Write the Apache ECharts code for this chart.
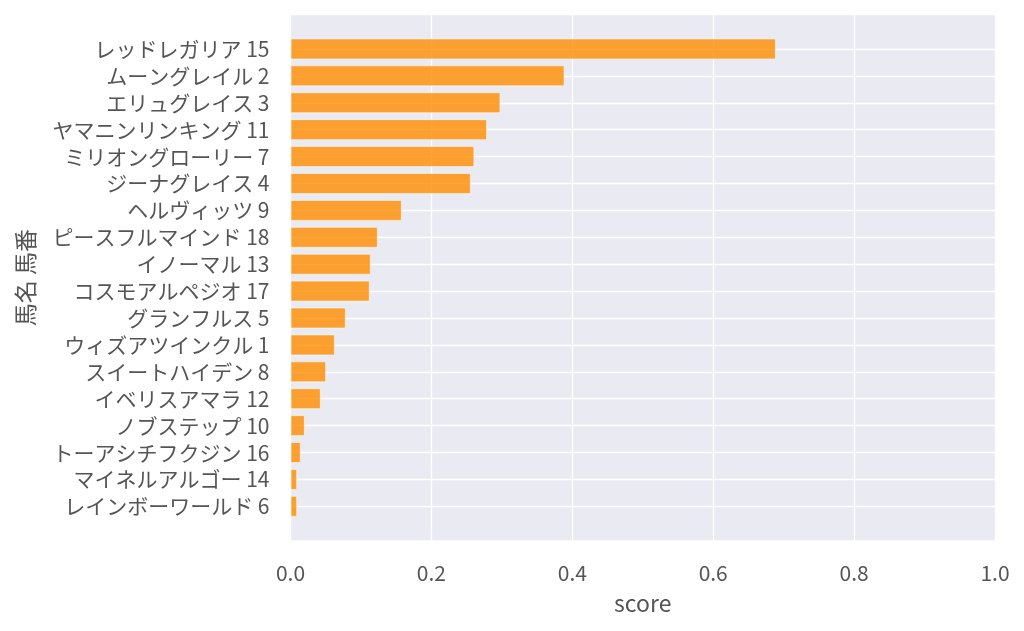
<!DOCTYPE html>
<html>
<head>
<meta charset="utf-8">
<script src="https://cdn.jsdelivr.net/npm/echarts@6/dist/echarts.min.js"></script>
<style>html,body{margin:0;padding:0;background:#fff}#c{width:1024px;height:631px}</style>
</head>
<body>
<div id="c"></div>
<script>
var horseNames = ['レッドレガリア','ムーングレイル','エリュグレイス','ヤマニンリンキング','ミリオングローリー','ジーナグレイス','ヘルヴィッツ','ピースフルマインド','イノーマル','コスモアルペジオ','グランフルス','ウィズアツインクル','スイートハイデン','イベリスアマラ','ノブステップ','トーアシチフクジン','マイネルアルゴー','レインボーワールド'];
var horseNumbers = [15, 2, 3, 11, 7, 4, 9, 18, 13, 17, 5, 1, 8, 12, 10, 16, 14, 6];
var scores = [0.689, 0.389, 0.298, 0.279, 0.261, 0.256, 0.158, 0.124, 0.114, 0.1125, 0.0785, 0.063, 0.0506, 0.043, 0.0203, 0.0146, 0.0095, 0.0095];
var xTicks = [0, 0.2, 0.4, 0.6, 0.8, 1.0];

var labels = horseNames.map(function (n, i) { return n + ' ' + horseNumbers[i]; });
var FONT = "'Noto Sans CJK JP', 'Noto Sans', sans-serif";
var TXT = '#555';

var chart = echarts.init(document.getElementById('c'), null, {renderer: 'canvas'});
chart.setOption({
  animation: false,
  textStyle: {fontFamily: FONT},
  grid: [
    {left: 290.5, right: 29, top: 15.3, bottom: 90.7, show: true, backgroundColor: '#eaeaf2', borderWidth: 0},
    {left: 290.5, right: 29, top: 35.5, bottom: 111.2, show: false}
  ],
  xAxis: [
    {
      gridIndex: 0, type: 'value', min: xTicks[0], max: xTicks[xTicks.length - 1], interval: 0.2,
      axisLine: {show: false}, axisTick: {show: false},
      axisLabel: {margin: 22, fontSize: 21, color: TXT, fontFamily: FONT, formatter: function (v) { return v.toFixed(1); }},
      splitLine: {show: true, lineStyle: {color: '#ffffff', width: 1.3}},
      name: 'score', nameLocation: 'middle', nameGap: 51,
      nameTextStyle: {fontSize: 23, color: TXT, fontFamily: FONT}
    },
    {
      gridIndex: 1, type: 'value', min: xTicks[0], max: xTicks[xTicks.length - 1],
      show: false
    }
  ],
  yAxis: [
    {gridIndex: 0, type: 'value', min: 0, max: 1, show: false},
    {
      gridIndex: 1, type: 'category', data: labels, inverse: true,
      axisLine: {show: false}, axisTick: {show: false, alignWithLabel: true, interval: 0},
      axisLabel: {interval: 0, margin: 21, fontSize: 21, color: TXT, fontFamily: FONT},
      splitLine: {show: true, interval: 0, alignWithLabel: true, lineStyle: {color: '#ffffff', width: 1.3}},
      name: '馬名 馬番', nameLocation: 'middle', nameGap: 254, nameRotate: 90,
      nameTextStyle: {fontSize: 23, color: TXT, fontFamily: FONT}
    }
  ],
  series: [{
    type: 'bar', xAxisIndex: 1, yAxisIndex: 1,
    data: scores, barWidth: '78%',
    itemStyle: {color: 'rgba(255,140,0,0.8)', borderColor: 'rgba(255,255,255,0.55)', borderWidth: 1}
  }]
});
</script>
</body>
</html>
